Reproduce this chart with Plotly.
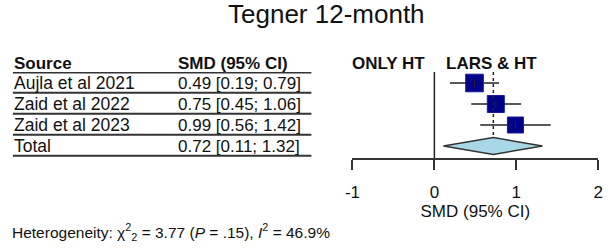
import plotly.graph_objects as go

# ---- data ----
sources = ["Aujla et al 2021", "Zaid et al 2022", "Zaid et al 2023"]
smd = [0.49, 0.75, 0.99]
ci_lo = [0.19, 0.45, 0.56]
ci_hi = [0.79, 1.06, 1.42]
weights = [38.0, 35.0, 30.0]  # approximate, from square sizes
total_label = "Total"
total_smd = 0.72
total_lo = 0.11
total_hi = 1.32
tick_vals = [-1, 0, 1, 2]
tick_text = ["-1", "0", "1", "2"]
title_text = "Tegner 12-month"
left_label = "ONLY HT"
right_label = "LARS & HT"
het_text = "Heterogeneity: χ<sup>2</sup><sub>2</sub> = 3.77 (<i>P</i> = .15), <i>I</i><sup>2</sup> = 46.9%"

W, H = 610, 250
FONT = "Liberation Sans, Arial, sans-serif"
rows = list(range(len(sources)))
total_row = len(sources)

fig = go.Figure()

# CI lines + squares
sizes = [10 + w * 0.2 for w in weights]
fig.add_trace(go.Scatter(
    x=smd, y=rows, mode="markers",
    marker=dict(symbol="square", size=sizes, color="#000088", opacity=1,
                line=dict(color="#1a1aa0", width=1)),
    error_x=dict(type="data", symmetric=False,
                 array=[h - m for h, m in zip(ci_hi, smd)],
                 arrayminus=[m - l for m, l in zip(smd, ci_lo)],
                 color="#222222", thickness=1.5, width=0),
    hoverinfo="skip", showlegend=False))
fig.add_trace(go.Scatter(
    x=smd, y=rows, mode="markers",
    marker=dict(symbol="line-ns", size=5, opacity=1, line=dict(color="#222222", width=1)),
    hoverinfo="skip", showlegend=False))

# diamond
dh = 0.4
fig.add_trace(go.Scatter(
    x=[total_lo, total_smd, total_hi, total_smd, total_lo],
    y=[total_row, total_row - dh, total_row, total_row + dh, total_row],
    mode="lines", fill="toself", fillcolor="#a8d8e8",
    line=dict(color="#333333", width=1.5),
    hoverinfo="skip", showlegend=False))

shapes = []
# zero line
shapes.append(dict(type="line", xref="x", yref="y domain", x0=0, x1=0, y0=0, y1=1,
                   line=dict(color="#222222", width=1.5)))
# dotted pooled line
shapes.append(dict(type="line", xref="x", yref="y", x0=total_smd, x1=total_smd,
                   y0=-0.52, y1=total_row - dh,
                   line=dict(color="#222222", width=1.5, dash="dot")))
# table lines
x0p, x1p = 5 / W, 310 / W
for yv in [-0.5] + [r + 0.47 for r in rows + [total_row]]:
    shapes.append(dict(type="line", xref="paper", yref="y", x0=x0p, x1=x1p, y0=yv, y1=yv,
                       line=dict(color="#333333", width=2)))

annotations = []
labels = sources + [total_label]
values = [f"{m:.2f} [{l:.2f}; {h:.2f}]" for m, l, h in zip(smd, ci_lo, ci_hi)]
values.append(f"{total_smd:.2f} [{total_lo:.2f}; {total_hi:.2f}]")
for r, (lab, val) in enumerate(zip(labels, values)):
    annotations.append(dict(text=lab, x=4 / W, xref="paper", y=r, yref="y",
                            xanchor="left", yanchor="middle", showarrow=False,
                            font=dict(size=17.5, color="#111111", family=FONT)))
    annotations.append(dict(text=val, x=172 / W, xref="paper", y=r, yref="y",
                            xanchor="left", yanchor="middle", showarrow=False,
                            font=dict(size=17, color="#111111", family=FONT)))
hy = (H - 63) / H
for txt, xp in [("Source", 4), ("SMD (95% CI)", 172), (left_label, 349), (right_label, 445)]:
    annotations.append(dict(text=f"<b>{txt}</b>", x=xp / W, xref="paper", y=hy, yref="paper",
                            xanchor="left", yanchor="middle", showarrow=False,
                            font=dict(size=17, color="#111111", family=FONT)))
annotations.append(dict(text=title_text, x=325 / W, xref="paper", y=(H - 14) / H, yref="paper",
                        xanchor="center", yanchor="middle", showarrow=False,
                        font=dict(size=26, color="#111111", family=FONT)))
annotations.append(dict(text=het_text, x=2 / W, xref="paper", y=(H - 232) / H, yref="paper",
                        xanchor="left", yanchor="middle", showarrow=False,
                        font=dict(size=15.5, color="#111111", family=FONT)))

# y mapping: row i at pixel 83 + 21*i; domain from pixel 72 to 158
top_px, bot_px = 72, 158
y_top = (top_px - 83) / 21
y_bot = (bot_px - 83) / 21

fig.update_layout(
    width=W, height=H, margin=dict(l=0, r=0, t=0, b=0),
    paper_bgcolor="white", plot_bgcolor="white",
    font=dict(family=FONT, color="#111111"),
    xaxis=dict(domain=[352 / W, 603 / W], range=[-1, 2], tickvals=tick_vals, ticktext=tick_text,
               showline=True, linecolor="#333333", linewidth=1.5,
               ticks="outside", ticklen=10, tickwidth=1.5, tickcolor="#333333",
               tickfont=dict(size=17, color="#111111"), ticklabelstandoff=8,
               showgrid=False, zeroline=False, fixedrange=True,
               title=dict(text="SMD (95% CI)", font=dict(size=17, color="#111111"), standoff=2)),
    yaxis=dict(domain=[(H - bot_px) / H, (H - top_px) / H], range=[y_bot, y_top],
               visible=False, showgrid=False, zeroline=False, fixedrange=True),
    shapes=shapes, annotations=annotations,
)

fig.write_html("out.html")
